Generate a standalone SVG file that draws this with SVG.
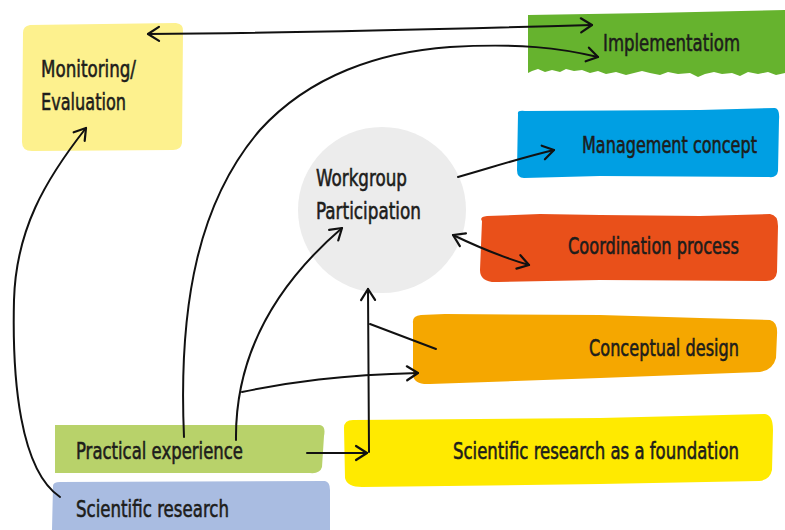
<svg xmlns="http://www.w3.org/2000/svg" width="785" height="530" viewBox="0 0 785 530">
  <style>
    text { font-family: "DejaVu Sans Condensed", "Liberation Sans Narrow", "Liberation Sans", sans-serif; font-stretch: condensed; font-size: 19px; fill: #1d1d1b; stroke: #1d1d1b; stroke-width: 0.45px; }
    .link { fill: none; stroke: #111; stroke-width: 2; stroke-linecap: round; stroke-linejoin: round; }
  </style>
  <defs>
    <marker id="chev" markerUnits="userSpaceOnUse" markerWidth="30" markerHeight="30" viewBox="-15 -15 30 30" refX="0" refY="0" orient="auto-start-reverse">
      <path d="M-11,-7 L0,0 L-11,7" fill="none" stroke="#111" stroke-width="2.2" stroke-linecap="round" stroke-linejoin="round"/>
    </marker>
  </defs>
  <rect width="785" height="530" fill="#fff"/>

  <!-- Monitoring / Evaluation -->
  <g id="monitoring">
    <path d="M30,25 L176,23 Q184,24 183,32 L182,143 Q181,150 173,150 L32,151 Q22,151 22,142 L23,33 Q23,26 30,25 Z" fill="#fdf18e"/>
    <text transform="translate(41,77) scale(1,1.25)" textLength="95" lengthAdjust="spacingAndGlyphs">Monitoring/</text>
    <text transform="translate(41,110) scale(1,1.25)" textLength="85" lengthAdjust="spacingAndGlyphs">Evaluation</text>
  </g>

  <!-- Implementation -->
  <g id="implementation">
    <path d="M528,15 L650,13 L785,10 L785,73 L776,75 L768,72 L758,74 L748,72 L740,76 L732,73 L722,74 L714,72 L705,74 L698,77 L690,73 L678,74 L668,72 L660,75 L650,73 L642,71 L634,73 L626,75 L616,72 L606,74 L598,71 L590,73 L582,70 L574,71 L566,69 L560,72 L552,70 L545,72 L538,69 L532,71 L528,73 Z" fill="#66b32e"/>
    <text transform="translate(603,51) scale(1,1.25)" textLength="137" lengthAdjust="spacingAndGlyphs">Implementatiom</text>
  </g>

  <!-- Management concept -->
  <g id="management">
    <path d="M518,114 Q517,110 525,111 L700,110 L775,108 Q780,109 779,120 L778,171 Q777,178 769,177 L600,176 L524,178 Q517,178 517,170 Z" fill="#009fe3"/>
    <text transform="translate(582,153) scale(1,1.25)" textLength="175" lengthAdjust="spacingAndGlyphs">Management concept</text>
  </g>

  <!-- Workgroup Participation -->
  <g id="workgroup">
    <ellipse cx="382" cy="210" rx="84" ry="83" fill="#ececec"/>
    <text transform="translate(316,186) scale(1,1.25)" textLength="91" lengthAdjust="spacingAndGlyphs">Workgroup</text>
    <text transform="translate(316,219) scale(1,1.25)" textLength="105" lengthAdjust="spacingAndGlyphs">Participation</text>
  </g>

  <!-- Coordination process -->
  <g id="coordination">
    <path d="M482,221 Q479,217 487,216 L540,214 L600,215 L700,216 L770,214 Q778,215 778,226 L777,272 Q776,282 764,281 L600,280 L498,282 Q480,283 480,270 Z" fill="#e9501a"/>
    <text transform="translate(568,254) scale(1,1.25)" textLength="171" lengthAdjust="spacingAndGlyphs">Coordination process</text>
  </g>

  <!-- Conceptual design -->
  <g id="conceptual">
    <path d="M413,323 Q412,316 421,315 L445,314 L600,315 L700,318 L770,320 Q778,322 777,335 L776,358 Q773,370 760,372 L600,378 L430,384 Q414,385 413,375 Z" fill="#f5a700"/>
    <text transform="translate(589,356) scale(1,1.25)" textLength="150" lengthAdjust="spacingAndGlyphs">Conceptual design</text>
  </g>

  <!-- Scientific research as a foundation -->
  <g id="foundation">
    <path d="M344,428 Q344,420 353,420 L600,418 L765,414 Q773,415 773,430 L772,470 Q770,480 759,481 L600,484 L362,487 Q347,487 345,478 Z" fill="#ffea00"/>
    <text transform="translate(453,459) scale(1,1.25)" textLength="286" lengthAdjust="spacingAndGlyphs">Scientific research as a foundation</text>
  </g>

  <!-- Practical experience -->
  <g id="practical">
    <path d="M55,425 L320,425 Q326,426 324,436 L322,467 Q320,474 310,473 L55,473 Z" fill="#b8d26a"/>
    <text transform="translate(76,459) scale(1,1.25)" textLength="167" lengthAdjust="spacingAndGlyphs">Practical experience</text>
  </g>

  <!-- Scientific research -->
  <g id="research">
    <path d="M53,486 Q53,482 60,482 L325,481 Q330,482 330,490 L330,530 L52,530 Z" fill="#a9bce1"/>
    <text transform="translate(76,517) scale(1,1.25)" textLength="153" lengthAdjust="spacingAndGlyphs">Scientific research</text>
  </g>

  <!-- Connectors -->
  <g id="connectors">
    <path class="link" d="M148,34 C300,33 450,29 592,25" marker-start="url(#chev)" marker-end="url(#chev)"/>
    <path class="link" d="M184,437 C178,300 200,200 260,130 C310,75 380,52 450,47 C520,43 560,48 598,57" marker-end="url(#chev)"/>
    <path class="link" d="M60,497 C20,470 12,380 14,300 C16,230 45,180 86,128" marker-end="url(#chev)"/>
    <path class="link" d="M236,440 C235,360 270,290 342,228" marker-end="url(#chev)"/>
    <path class="link" d="M242,392 C290,382 340,375 418,373" marker-end="url(#chev)"/>
    <path class="link" d="M307,453 L367,453" marker-end="url(#chev)"/>
    <path class="link" d="M369,452 L368,289" marker-end="url(#chev)"/>
    <path class="link" d="M370,324 L436,349"/>
    <path class="link" d="M458,177 C490,168 520,158 554,150" marker-end="url(#chev)"/>
    <path class="link" d="M453,235 C480,248 505,258 529,265" marker-start="url(#chev)" marker-end="url(#chev)"/>
  </g>
</svg>
